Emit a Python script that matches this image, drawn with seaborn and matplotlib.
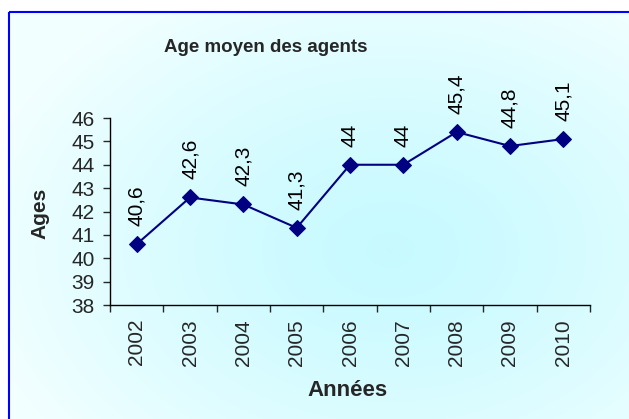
import matplotlib
matplotlib.use("Agg")
import matplotlib.pyplot as plt
import seaborn as sns
import numpy as np
import pandas as pd
from matplotlib.patches import Rectangle

# données
annees = ['2002', '2003', '2004', '2005', '2006', '2007', '2008', '2009', '2010']
ages = [40.6, 42.6, 42.3, 41.3, 44, 44, 45.4, 44.8, 45.1]
etiquettes = ['40,6', '42,6', '42,3', '41,3', '44', '44', '45,4', '44,8', '45,1']
y_ticks = [38, 39, 40, 41, 42, 43, 44, 45, 46]

df = pd.DataFrame({'Années': annees, 'Ages': ages})

sns.set_style('ticks')
plt.rcParams['font.family'] = ['Liberation Sans', 'DejaVu Sans']

W, H = 629, 419
fig = plt.figure(figsize=(W / 100, H / 100), dpi=100)

# fond en dégradé radial
bg = fig.add_axes([0, 0, 1, 1], zorder=-10)
yy, xx = np.mgrid[0:H, 0:W]
d = np.sqrt(((xx - 390) / 420.0) ** 2 + ((yy - 250) / 300.0) ** 2)
t = np.clip(d, 0, 1)[..., None] ** 1.3
c_centre = np.array([0.78, 0.98, 1.0])
c_bord = np.array([0.95, 1.0, 1.0])
img = c_centre * (1 - t) + c_bord * t
img[:12, :, :] = 1.0
img[:, :8, :] = 1.0
bg.imshow(img, extent=[0, W, H, 0], aspect='auto', interpolation='bilinear')
bg.set_xlim(0, W)
bg.set_ylim(H, 0)
bg.axis('off')
bg.add_patch(Rectangle((9, 12), W + 20, H + 20, fill=False, edgecolor='#0000ff', linewidth=1.5))

ax = fig.add_axes([110 / W, 1 - 305 / H, (590 - 110) / W, (305 - 118) / H])
ax.set_facecolor('none')

sns.lineplot(data=df, x='Années', y='Ages', ax=ax, color='#000080', marker='D',
             markersize=8, markeredgecolor='#000080', linewidth=1.5, sort=False)

for i, (v, lab) in enumerate(zip(ages, etiquettes)):
    ax.annotate(lab, (i, v), xytext=(0, 13), textcoords='offset points',
                rotation=90, ha='center', va='bottom', fontsize=15, color='black',
                annotation_clip=False)

ax.set_xlim(-0.5, len(annees) - 0.5)
ax.set_ylim(38, 46)
ax.set_yticks(y_ticks)
ax.set_yticklabels([str(v) for v in y_ticks], fontsize=15)
ax.set_xticks(range(len(annees)))
ax.set_xticklabels(annees, rotation=90, fontsize=15)
ax.set_xticks(np.arange(-0.5, len(annees)), minor=True)
ax.tick_params(axis='x', which='major', length=0, pad=10)
ax.tick_params(axis='x', which='minor', length=5, width=1, direction='out')
ax.tick_params(axis='y', length=5, width=1, direction='out', pad=6)
ax.set_xlabel('')
ax.set_ylabel('')
for s in ['top', 'right']:
    ax.spines[s].set_visible(False)
for s in ['left', 'bottom']:
    ax.spines[s].set_color('black')
    ax.spines[s].set_linewidth(1)
ax.grid(False)

fig.text(266 / W, 1 - 48 / H, 'Age moyen des agents', ha='center', va='center',
         fontsize=13.5, fontweight='bold')
fig.text(40 / W, 1 - 213 / H, 'Ages', ha='center', va='center', rotation=90,
         fontsize=15, fontweight='bold')
fig.text(348 / W, 1 - 390 / H, 'Années', ha='center', va='center',
         fontsize=16, fontweight='bold')

fig.savefig('out.png', dpi=100)
